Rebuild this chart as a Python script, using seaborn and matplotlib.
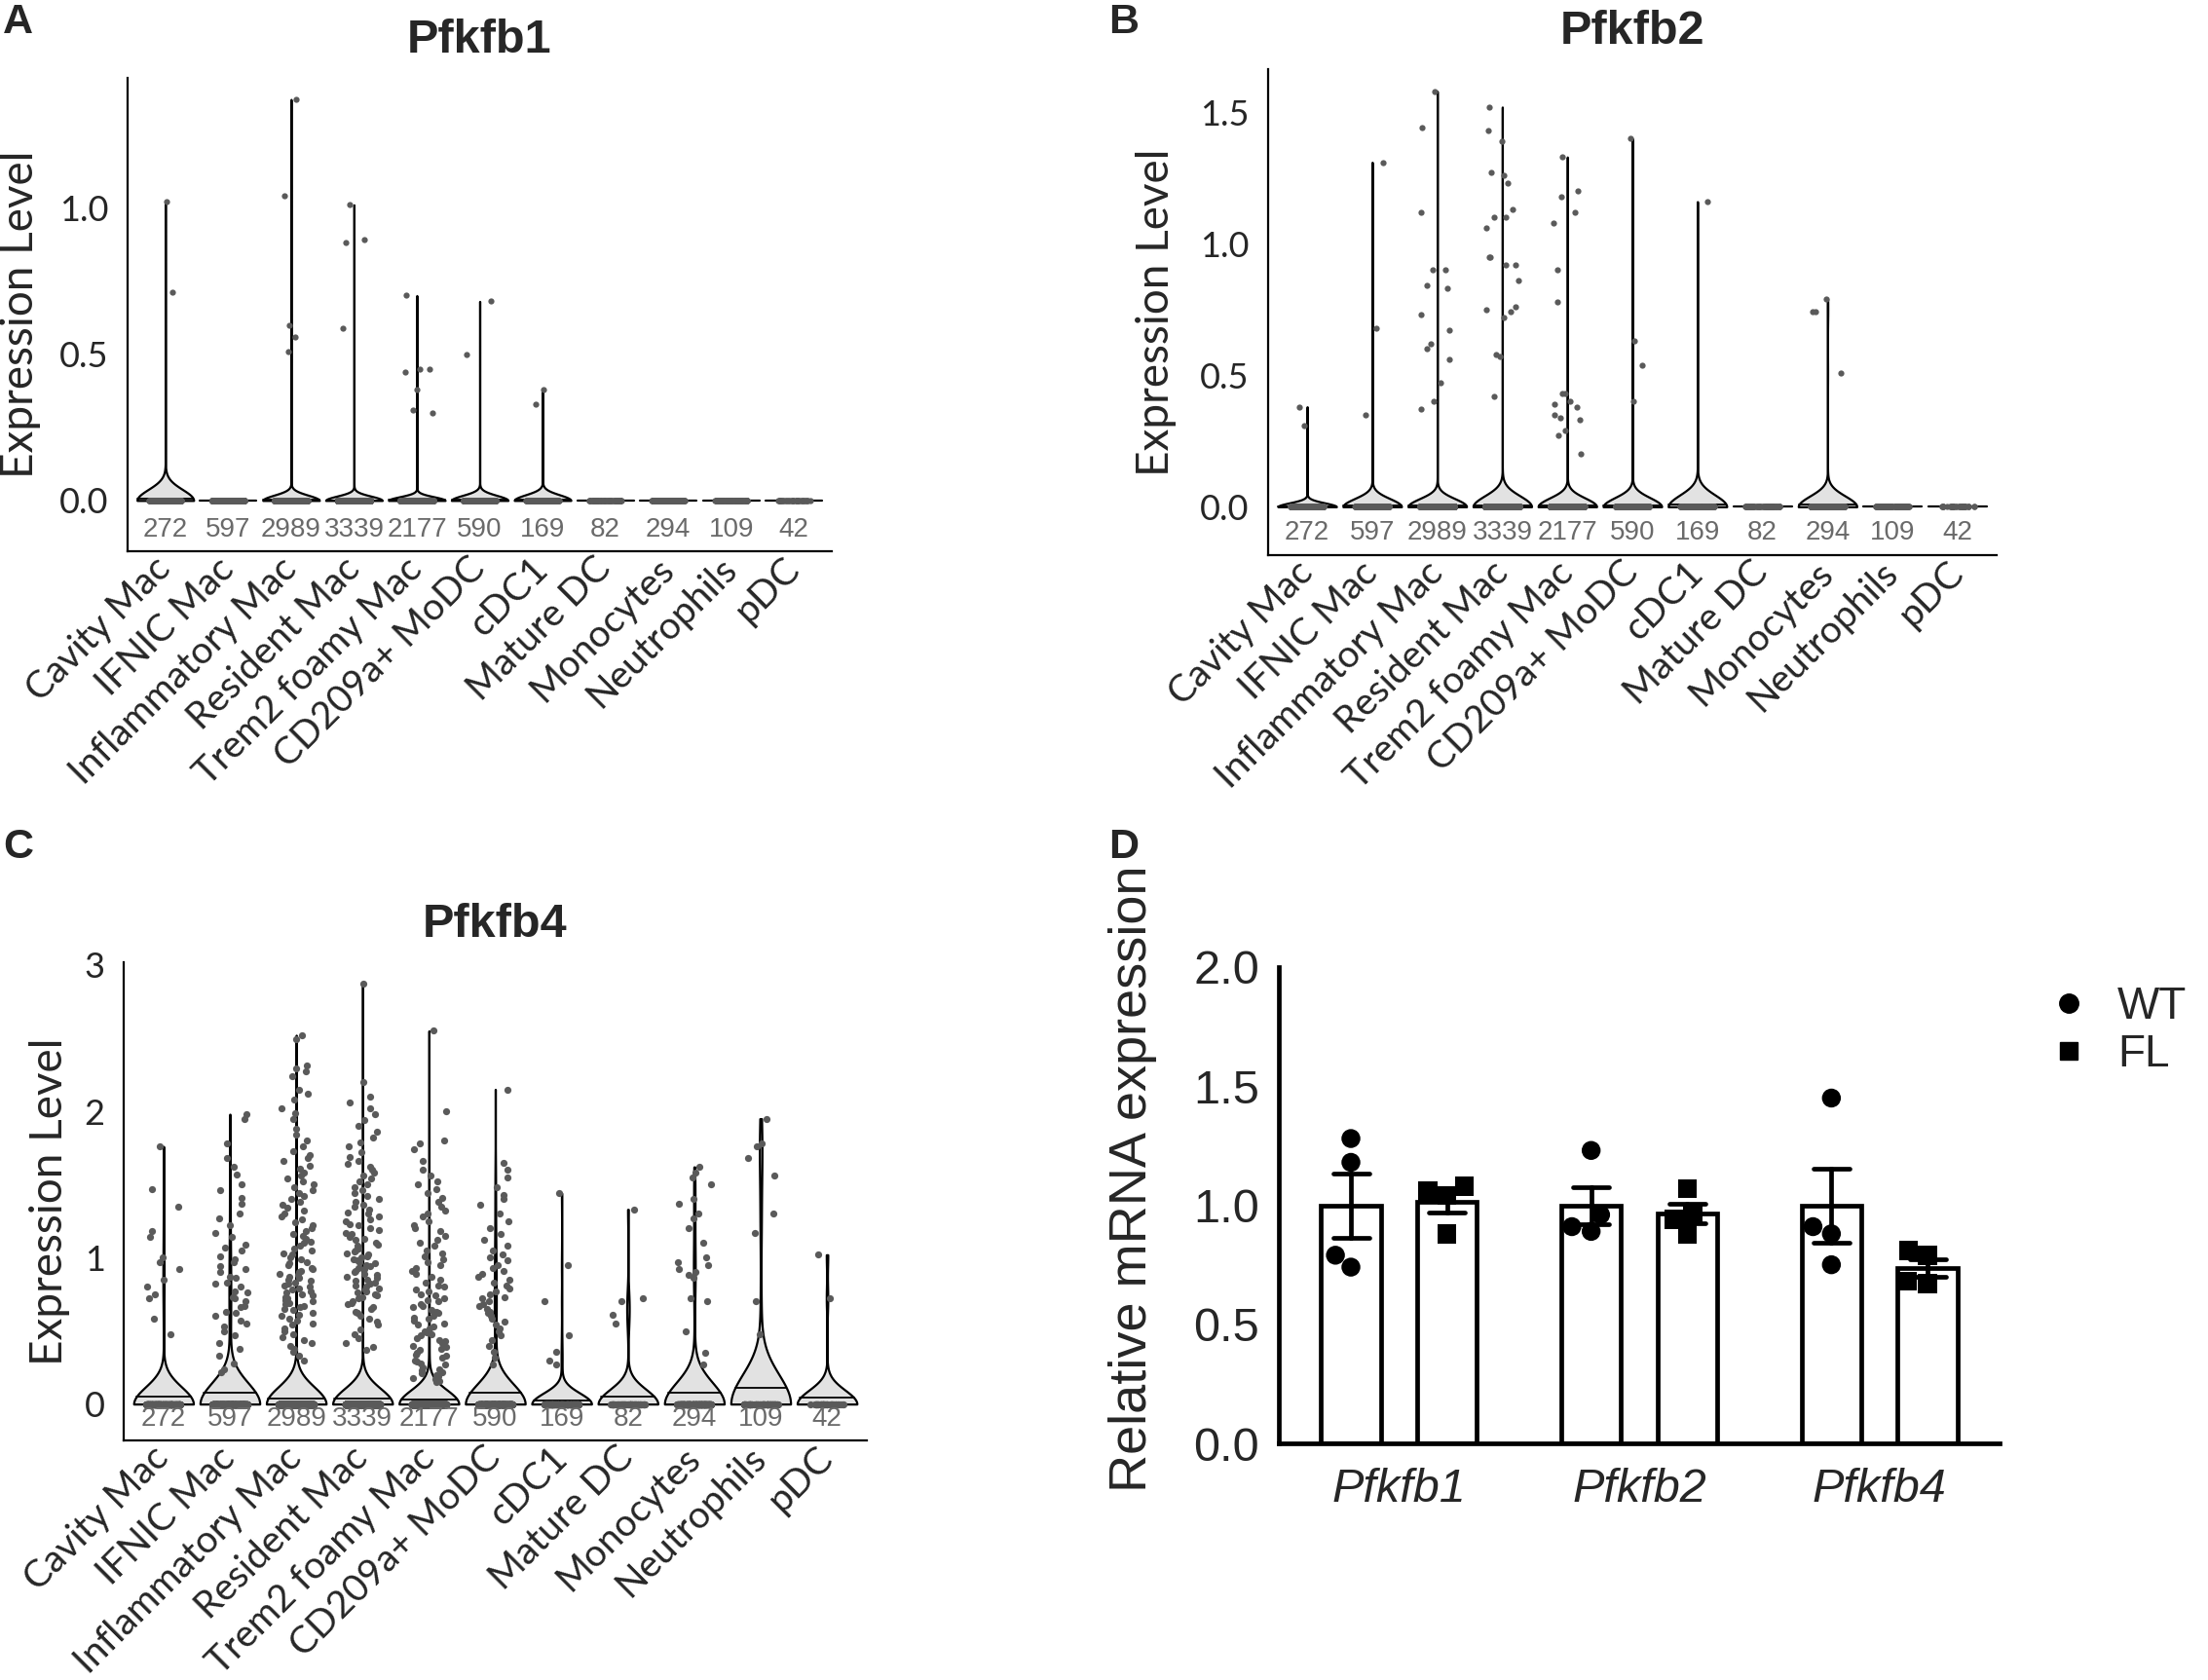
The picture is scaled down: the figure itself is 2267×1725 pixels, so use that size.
import numpy as np
import pandas as pd
import seaborn as sns
import matplotlib.pyplot as plt
from matplotlib.lines import Line2D
from matplotlib.ticker import FormatStrFormatter

# --- DATA ---
CELLS = ["Cavity Mac", "IFNIC Mac", "Inflammatory Mac", "Resident Mac",
         "Trem2 foamy Mac", "CD209a+ MoDC", "cDC1", "Mature DC",
         "Monocytes", "Neutrophils", "pDC"]
N_CELLS = [272, 597, 2989, 3339, 2177, 590, 169, 82, 294, 109, 42]

# non-zero expression values (all other cells are 0)
PFKFB1 = {
    "Cavity Mac": [1.02, 0.71],
    "Inflammatory Mac": [1.37, 1.04, 0.60, 0.56, 0.51],
    "Resident Mac": [1.01, 0.89, 0.88, 0.59],
    "Trem2 foamy Mac": [0.70, 0.45, 0.45, 0.44, 0.38, 0.31, 0.30],
    "CD209a+ MoDC": [0.68, 0.50],
    "cDC1": [0.38, 0.33],
}

PFKFB2 = {
    "Cavity Mac": [0.38, 0.31],
    "IFNIC Mac": [1.31, 0.68, 0.35],
    "Inflammatory Mac": [1.58, 1.44, 1.12, 0.90, 0.90, 0.84, 0.83, 0.73, 0.67,
                         0.62, 0.60, 0.56, 0.47, 0.40, 0.37],
    "Resident Mac": [1.52, 1.43, 1.39, 1.27, 1.26, 1.23, 1.13, 1.10, 1.10, 1.06,
                     0.95, 0.95, 0.92, 0.92, 0.86, 0.76, 0.75, 0.74, 0.72, 0.58,
                     0.57, 0.42],
    "Trem2 foamy Mac": [1.33, 1.20, 1.18, 1.12, 1.08, 0.90, 0.78, 0.43, 0.43,
                        0.40, 0.39, 0.38, 0.35, 0.34, 0.33, 0.29, 0.27, 0.20],
    "CD209a+ MoDC": [1.40, 0.63, 0.54, 0.40],
    "cDC1": [1.16],
    "Monocytes": [0.79, 0.74, 0.74, 0.51],
}

PFKFB4 = {
    "Cavity Mac": [1.76, 1.47, 1.35, 1.18, 1.14, 1.00, 0.97, 0.92, 0.85, 0.80,
                   0.75, 0.72, 0.58, 0.48],
    "IFNIC Mac": [1.98, 1.95, 1.78, 1.68, 1.62, 1.57, 1.50, 1.46, 1.41, 1.37,
                  1.30, 1.27, 1.22, 1.17, 1.14, 1.09, 1.07, 1.05, 1.01, 0.99,
                  0.97, 0.94, 0.92, 0.90, 0.87, 0.86, 0.83, 0.82, 0.80, 0.77,
                  0.76, 0.73, 0.72, 0.70, 0.67, 0.66, 0.63, 0.62, 0.60, 0.57,
                  0.55, 0.53, 0.50, 0.47, 0.42, 0.38, 0.33, 0.28, 0.24, 0.22],
    "Inflammatory Mac": [2.52, 2.49, 2.31, 2.29, 2.27, 2.24, 2.15, 2.12, 2.08,
                         2.02, 1.99, 1.95, 1.88, 1.84, 1.80, 1.76, 1.73, 1.70,
                         1.68, 1.66, 1.63, 1.61, 1.58, 1.56, 1.54, 1.52, 1.50,
                         1.48, 1.46, 1.44, 1.42, 1.40, 1.38, 1.36, 1.34, 1.32,
                         1.30, 1.28, 1.26, 1.24, 1.22, 1.20, 1.18, 1.16, 1.15,
                         1.13, 1.11, 1.10, 1.08, 1.06, 1.05, 1.03, 1.02, 1.00,
                         0.99, 0.97, 0.96, 0.95, 0.93, 0.92, 0.91, 0.90, 0.89,
                         0.88, 0.87, 0.86, 0.85, 0.84, 0.83, 0.82, 0.81, 0.80,
                         0.79, 0.78, 0.77, 0.76, 0.75, 0.74, 0.73, 0.72, 0.71,
                         0.70, 0.69, 0.68, 0.67, 0.66, 0.65, 0.64, 0.62, 0.61,
                         0.60, 0.58, 0.57, 0.55, 0.54, 0.52, 0.50, 0.48, 0.46,
                         0.44, 0.42, 0.40, 0.38, 0.36, 0.33, 0.30],
    "Resident Mac": [2.87, 2.20, 2.10, 2.06, 2.02, 1.98, 1.94, 1.90, 1.86, 1.82,
                     1.79, 1.76, 1.72, 1.69, 1.66, 1.64, 1.62, 1.60, 1.58, 1.56,
                     1.54, 1.52, 1.50, 1.48, 1.46, 1.44, 1.42, 1.40, 1.38, 1.36,
                     1.35, 1.33, 1.31, 1.30, 1.28, 1.26, 1.25, 1.23, 1.22, 1.20,
                     1.19, 1.17, 1.16, 1.14, 1.13, 1.12, 1.10, 1.09, 1.08, 1.06,
                     1.05, 1.04, 1.03, 1.02, 1.01, 1.00, 0.99, 0.98, 0.97, 0.96,
                     0.95, 0.94, 0.93, 0.92, 0.91, 0.90, 0.89, 0.88, 0.87, 0.86,
                     0.85, 0.84, 0.83, 0.82, 0.81, 0.80, 0.79, 0.78, 0.77, 0.76,
                     0.75, 0.74, 0.73, 0.72, 0.70, 0.69, 0.68, 0.66, 0.65, 0.63,
                     0.62, 0.60, 0.58, 0.56, 0.54, 0.51, 0.48, 0.45, 0.42, 0.39,
                     0.37],
    "Trem2 foamy Mac": [2.55, 2.00, 1.80, 1.78, 1.74, 1.66, 1.60, 1.56, 1.52,
                        1.50, 1.47, 1.44, 1.41, 1.38, 1.35, 1.32, 1.30, 1.28,
                        1.25, 1.22, 1.20, 1.18, 1.15, 1.12, 1.10, 1.08, 1.05,
                        1.03, 1.01, 0.99, 0.97, 0.95, 0.93, 0.91, 0.89, 0.87,
                        0.85, 0.83, 0.81, 0.80, 0.78, 0.77, 0.75, 0.74, 0.72,
                        0.71, 0.70, 0.68, 0.67, 0.66, 0.64, 0.63, 0.62, 0.60,
                        0.59, 0.58, 0.57, 0.55, 0.54, 0.53, 0.52, 0.50, 0.49,
                        0.48, 0.47, 0.45, 0.44, 0.43, 0.42, 0.40, 0.39, 0.38,
                        0.37, 0.35, 0.34, 0.33, 0.32, 0.30, 0.29, 0.28, 0.27,
                        0.25, 0.24, 0.23, 0.22, 0.21, 0.20, 0.19, 0.18, 0.17,
                        0.16, 0.15],
    "CD209a+ MoDC": [2.15, 1.65, 1.60, 1.55, 1.48, 1.43, 1.40, 1.36, 1.30, 1.25,
                     1.20, 1.16, 1.12, 1.08, 1.05, 1.02, 1.00, 0.98, 0.95, 0.93,
                     0.91, 0.89, 0.87, 0.85, 0.83, 0.81, 0.79, 0.77, 0.75, 0.73,
                     0.72, 0.70, 0.68, 0.67, 0.65, 0.63, 0.62, 0.60, 0.58, 0.56,
                     0.54, 0.52, 0.50, 0.47, 0.44, 0.40, 0.36, 0.32, 0.27],
    "cDC1": [1.44, 0.95, 0.70, 0.47, 0.36, 0.30, 0.27],
    "Mature DC": [1.33, 0.72, 0.70, 0.61, 0.55],
    "Monocytes": [1.62, 1.58, 1.55, 1.50, 1.40, 1.37, 1.30, 1.27, 1.20, 1.10,
                  1.00, 0.97, 0.95, 0.92, 0.90, 0.88, 0.86, 0.72, 0.70, 0.50,
                  0.35, 0.27],
    "Neutrophils": [1.95, 1.78, 1.76, 1.68, 1.56, 1.30, 1.17, 0.70, 0.48],
    "pDC": [1.02, 0.72],
}

# panel D: qPCR, relative mRNA expression (4 mice per genotype)
GENES = ["Pfkfb1", "Pfkfb2", "Pfkfb4"]
GENOTYPES = ["WT", "FL"]
WT_QPCR = {"Pfkfb1": [1.28, 1.18, 0.79, 0.74],
           "Pfkfb2": [1.23, 0.96, 0.91, 0.89],
           "Pfkfb4": [1.45, 0.91, 0.88, 0.75]}
FL_QPCR = {"Pfkfb1": [1.08, 1.06, 1.04, 0.88],
           "Pfkfb2": [1.07, 0.97, 0.94, 0.88],
           "Pfkfb4": [0.81, 0.79, 0.68, 0.67]}

# --- STYLE ---
sns.set_style("white")
plt.rcParams["font.family"] = ["Lato", "DejaVu Sans"]
W, H = 2267, 1725
ARIAL = ["Liberation Sans", "DejaVu Sans"]
np.random.seed(3)


def cell_table(values):
    rows = []
    for cell, n in zip(CELLS, N_CELLS):
        nz = values.get(cell, [])
        rows += [(cell, v) for v in nz]
        rows += [(cell, 0.0)] * (n - len(nz))
    return pd.DataFrame(rows, columns=["cell", "expr"])


def width_at(verts, y):
    xs = []
    for (x0, y0), (x1, y1) in zip(verts[:-1], verts[1:]):
        if y0 != y1 and min(y0, y1) <= y <= max(y0, y1):
            xs.append(x0 + (y - y0) * (x1 - x0) / (y1 - y0))
    return (min(xs), max(xs)) if xs else None


def px_axes(left, right, top, bottom):
    return [left / W, 1 - bottom / H, (right - left) / W, (bottom - top) / H]


def violin_panel(ax, values, title, ticks, fmt, label_x, dot=4.5):
    df = cell_table(values)
    top = df["expr"].max()
    has_signal = df.groupby("cell")["expr"].transform("max") > 0

    n_before = len(ax.collections)
    sns.violinplot(data=df[has_signal], x="cell", y="expr", order=CELLS,
                   density_norm="width", cut=0, inner=None, width=0.9,
                   bw_method=0.5, gridsize=400, color="#e2e2e2", saturation=1,
                   linecolor="black", linewidth=1.6, ax=ax)
    violins = ax.collections[n_before:]

    # mean line inside each violin
    means = df.groupby("cell")["expr"].mean()
    for coll in violins:
        verts = coll.get_paths()[0].vertices
        cell = CELLS[int(round(verts[:, 0].mean()))]
        span = width_at(verts, means[cell])
        if span:
            ax.plot(span, [means[cell]] * 2, color="black", lw=1.3, zorder=2)

    # groups with no expression collapse to a flat dash
    for i, cell in enumerate(CELLS):
        if df.loc[df["cell"] == cell, "expr"].max() == 0:
            ax.plot([i - 0.45, i + 0.45], [0, 0], color="black", lw=1.6, zorder=2)

    sns.stripplot(data=df, x="cell", y="expr", order=CELLS, color="#5a5a5a",
                  size=dot, jitter=0.26, linewidth=0, zorder=3, ax=ax)

    for i, n in enumerate(N_CELLS):
        ax.text(i, -0.1, str(n), ha="center", va="center", color="#6a6a6a",
                fontsize=20, family=ARIAL)

    ax.set_xlim(-0.6, 10.6)
    ax.set_ylim(-0.1 - 0.05 * (top + 0.1), top + 0.05 * (top + 0.1))
    ax.set_yticks(ticks)
    ax.yaxis.set_major_formatter(FormatStrFormatter(fmt))
    ax.set_xticks(range(len(CELLS)))
    ax.set_xticklabels(CELLS, rotation=45, ha="right", va="center",
                       rotation_mode="anchor", fontsize=28)
    ax.tick_params(axis="y", labelsize=26, length=11, width=1.4, pad=3)
    ax.tick_params(axis="x", length=6, width=1.4, pad=3)
    ax.set_xlabel("")
    ax.set_ylabel("Expression Level", fontsize=33)
    ax.yaxis.set_label_coords(label_x, 0.5)
    ax.set_title(title, fontsize=35, fontweight="bold", family=ARIAL, pad=19)
    sns.despine(ax=ax)
    for side in ["left", "bottom"]:
        ax.spines[side].set_linewidth(1.6)
        ax.spines[side].set_color("black")


fig = plt.figure(figsize=(W / 100, H / 100), dpi=100)

ax_a = fig.add_axes(px_axes(131, 854, 80, 566))
violin_panel(ax_a, PFKFB1, "Pfkfb1", [0.0, 0.5, 1.0], "%.1f", -0.123)

ax_b = fig.add_axes(px_axes(1302, 2050, 71, 570))
violin_panel(ax_b, PFKFB2, "Pfkfb2", [0.0, 0.5, 1.0, 1.5], "%.1f", -0.125)

ax_c = fig.add_axes(px_axes(127, 890, 988, 1479))
violin_panel(ax_c, PFKFB4, "Pfkfb4", [0, 1, 2, 3], "%d", -0.072, dot=5.2)

# --- PANEL D ---
rows = [(g, "WT", v) for g in GENES for v in WT_QPCR[g]]
rows += [(g, "FL", v) for g in GENES for v in FL_QPCR[g]]
dfq = pd.DataFrame(rows, columns=["gene", "genotype", "value"])

ax_d = fig.add_axes(px_axes(1313, 2053, 993, 1482))
sns.barplot(data=dfq, x="gene", y="value", hue="genotype", order=GENES,
            hue_order=GENOTYPES, palette={"WT": "white", "FL": "white"},
            saturation=1, edgecolor="black", linewidth=3.4, errorbar="se",
            capsize=0.3, err_kws={"color": "black", "linewidth": 3.4},
            width=0.8, gap=0.38, legend=False, ax=ax_d)
for geno, marker in zip(GENOTYPES, ["o", "s"]):
    sns.swarmplot(data=dfq[dfq["genotype"] == geno], x="gene", y="value",
                  hue="genotype", order=GENES, hue_order=GENOTYPES, dodge=True,
                  palette={"WT": "black", "FL": "black"}, marker=marker,
                  size=14, legend=False, zorder=4, ax=ax_d)

ax_d.set_xlim(-0.5, 2.5)
ax_d.set_ylim(0, 2.0)
ax_d.set_yticks([0.0, 0.5, 1.0, 1.5, 2.0])
ax_d.yaxis.set_major_formatter(FormatStrFormatter("%.1f"))
ax_d.tick_params(axis="y", labelsize=35, length=9.4, width=3.4, pad=5)
ax_d.tick_params(axis="x", labelsize=35, length=0, pad=18)
for lab in ax_d.get_yticklabels():
    lab.set_family(ARIAL)
for lab in ax_d.get_xticklabels():
    lab.set_family(ARIAL)
    lab.set_style("italic")
ax_d.set_xlabel("")
ax_d.set_ylabel("Relative mRNA expression", fontsize=39, family=ARIAL)
ax_d.yaxis.set_label_coords(-0.169, 0.556)
sns.despine(ax=ax_d)
for side in ["left", "bottom"]:
    ax_d.spines[side].set_linewidth(3.4)
    ax_d.spines[side].set_color("black")

handles = [Line2D([], [], marker="o", ls="none", color="black", markersize=14),
           Line2D([], [], marker="s", ls="none", color="black", markersize=13)]
ax_d.legend(handles, GENOTYPES, loc="upper left", bbox_to_anchor=(1.009, 1.045),
            frameon=False, prop={"family": ARIAL, "size": 33}, handlelength=1.0,
            handletextpad=0.6, labelspacing=0.1, borderpad=0.4)

# panel letters
for letter, (x, y) in zip("ABCD", [(3, 3), (1138, 3), (3, 850), (1138, 850)]):
    fig.text(x / W, 1 - y / H, letter, ha="left", va="top", fontsize=31,
             fontweight="bold", family=ARIAL)

fig.savefig("out.png", dpi=100)
